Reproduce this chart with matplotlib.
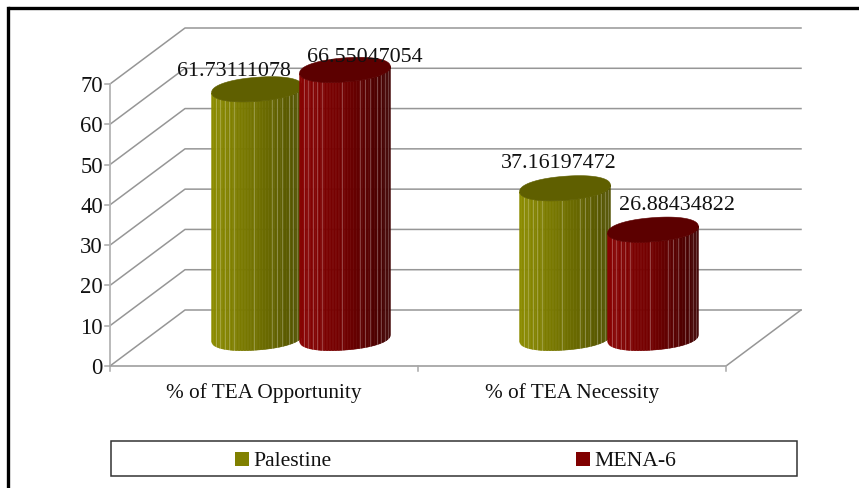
import numpy as np
import matplotlib
matplotlib.use('Agg')
import matplotlib.pyplot as plt
from matplotlib.patches import Polygon, Rectangle

plt.rcParams['font.family'] = ['Liberation Serif']

categories = ['% of TEA Opportunity', '% of TEA Necessity']
series_names = ['Palestine', 'MENA-6']
palestine = [61.73111078, 37.16197472]
mena6 = [66.55047054, 26.88434822]
value_labels = [['61.73111078', '37.16197472'], ['66.55047054', '26.88434822']]
y_ticks = [0, 10, 20, 30, 40, 50, 60, 70]

W, H = 859, 488
fig = plt.figure(figsize=(W/100, H/100), dpi=100)
ax = fig.add_axes([0, 0, 1, 1])
ax.set_xlim(0, W)
ax.set_ylim(H, 0)
ax.axis('off')

# pixel layout of the fake 3d box
x0, x1 = 110, 726
dx, dy = 75, -56
y_zero = 366
per_unit = 282/70.0
grey = '#969696'

def front_y(v):
    return y_zero - v*per_unit

# outer frame, only left and top show
ax.plot([8, 8], [H, 7.5], color='k', lw=2.4, solid_capstyle='projecting')
ax.plot([8, W], [7.5, 7.5], color='k', lw=2.4, solid_capstyle='butt')

# walls and gridlines
for t in y_ticks:
    y = front_y(t)
    ax.plot([x0, x0+dx, x1+dx], [y, y+dy, y+dy], color=grey, lw=1.1, zorder=1)
    ax.plot([x0-5, x0], [y, y], color='#a8a8a8', lw=1.1, zorder=1)
    ax.text(x0-7, y+2.5, str(t), ha='right', va='center', fontsize=16.3, color='#111111')
ax.plot([x0, x0], [front_y(0), front_y(70)], color='#b4b4b4', lw=1.3, zorder=1)
ax.plot([x0, x1, x1+dx], [y_zero, y_zero, y_zero+dy], color=grey, lw=1.1, zorder=1)
for i in range(3):
    tx = x0 + i*(x1-x0)/2.0
    ax.plot([tx, tx], [y_zero, y_zero+5], color='#a8a8a8', lw=1.1, zorder=1)
for i, c in enumerate(categories):
    ax.text(x0 + (i+0.5)*(x1-x0)/2.0, 393, c, ha='center', va='center',
            fontsize=15.3, color='#111111')

# cylinders
a_rad = 45.5
b_rad = 12
tilt = np.radians(-4.5)
base_y = 338
seams = [.04, .09, .14, .18, .24, .46, .65, .71, .77, .84, .89, .93, .97]
n_strips = 60
pw = 0.92

def rim(cx, cy, th):
    # slightly squared ellipse, the original caps are blunt
    c, s = np.cos(th), np.sin(th)
    px = a_rad*np.sign(c)*np.abs(c)**pw
    py = b_rad*np.sign(s)*np.abs(s)**pw
    return cx + px*np.cos(tilt) - py*np.sin(tilt), cy + px*np.sin(tilt) + py*np.cos(tilt)

def th_of(f):
    # fraction across the width back to rim angle
    u = 2*np.asarray(f) - 1
    return np.arccos(np.sign(u)*np.abs(u)**(1/pw))

def cylinder(cx, v, ramp, top_col, z):
    top = base_y - v*per_unit
    fr = np.linspace(0, 1, n_strips+1)
    th = th_of(fr)
    for k in range(n_strips):
        tt = np.linspace(th[k], th[k+1], 3)
        xa, ya = rim(cx, top, tt)
        xb, yb = rim(cx, base_y, tt[::-1])
        col = [np.interp((fr[k]+fr[k+1])/2, [0, .5, 1], [r[j] for r in ramp]) for j in range(3)]
        ax.add_patch(Polygon(np.column_stack([np.r_[xa, xb], np.r_[ya, yb]]), closed=True,
                             fc=col, ec=col, lw=0.4, zorder=z))
    for f in seams:
        t1 = th_of(f)
        xa, ya = rim(cx, top, t1)
        xb, yb = rim(cx, base_y, t1)
        ax.plot([xa, xb], [ya, yb], color='white', alpha=0.25, lw=0.8, zorder=z+0.1)
    th2 = np.linspace(0, 2*np.pi, 200)
    xc, yc = rim(cx, top, th2)
    ax.add_patch(Polygon(np.column_stack([xc, yc]), closed=True, fc=top_col, ec=top_col,
                         lw=0.4, zorder=z+0.2))

olive_ramp = [(0.55, 0.55, 0.0), (0.44, 0.44, 0.0), (0.31, 0.31, 0.0)]
red_ramp = [(0.54, 0.01, 0.01), (0.44, 0.0, 0.0), (0.24, 0.0, 0.0)]
centers = [[257, 565], [345, 653]]
label_pos = [[(234, 72), (559, 164)], [(365, 58), (677, 205)]]

for i in range(2):
    cylinder(centers[0][i], palestine[i], olive_ramp, '#5f5f00', 3+i*2)
    cylinder(centers[1][i], mena6[i], red_ramp, '#5c0000', 4+i*2)

for s in range(2):
    for i in range(2):
        ax.text(label_pos[s][i][0], label_pos[s][i][1], value_labels[s][i], ha='center', va='center',
                fontsize=15.8, color='#111111', zorder=10)

# legend
ax.add_patch(Rectangle((111, 441), 686, 35, fc='white', ec='#333333', lw=1.1, zorder=2))
ax.add_patch(Rectangle((235, 452), 14, 14, fc='#808000', ec='none', zorder=3))
ax.text(253.5, 461, series_names[0], ha='left', va='center', fontsize=15.6, color='#111111', zorder=3)
ax.add_patch(Rectangle((576, 452), 14, 14, fc='#800000', ec='none', zorder=3))
ax.text(594.5, 461, series_names[1], ha='left', va='center', fontsize=15.6, color='#111111', zorder=3)

fig.savefig('out.png', dpi=100)
